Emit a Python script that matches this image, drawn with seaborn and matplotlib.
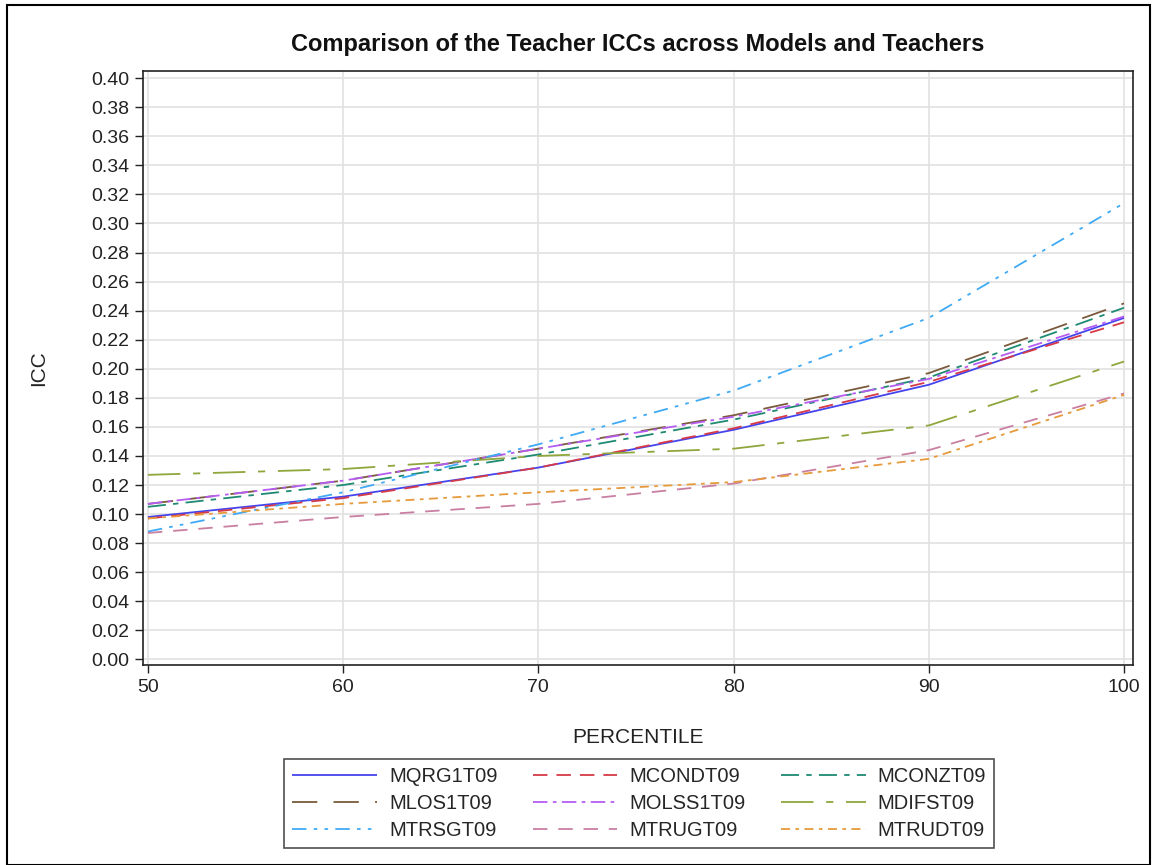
import matplotlib
matplotlib.use("Agg")
import matplotlib.pyplot as plt
import seaborn as sns
import pandas as pd
from matplotlib.patches import Rectangle

percentile = [50, 60, 70, 80, 90, 100]
series_names = ["MQRG1T09", "MCONDT09", "MCONZT09", "MLOS1T09", "MOLSS1T09",
                "MDIFST09", "MTRSGT09", "MTRUGT09", "MTRUDT09"]
MQRG1T09 = [0.098, 0.112, 0.132, 0.158, 0.189, 0.235]
MCONDT09 = [0.097, 0.111, 0.132, 0.159, 0.191, 0.232]
MCONZT09 = [0.105, 0.120, 0.141, 0.165, 0.194, 0.242]
MLOS1T09 = [0.107, 0.123, 0.145, 0.168, 0.197, 0.245]
MOLSS1T09 = [0.107, 0.123, 0.145, 0.167, 0.193, 0.236]
MDIFST09 = [0.127, 0.131, 0.140, 0.145, 0.161, 0.205]
MTRSGT09 = [0.088, 0.115, 0.148, 0.185, 0.235, 0.314]
MTRUGT09 = [0.087, 0.098, 0.107, 0.121, 0.144, 0.183]
MTRUDT09 = [0.097, 0.107, 0.115, 0.122, 0.138, 0.182]
values = [MQRG1T09, MCONDT09, MCONZT09, MLOS1T09, MOLSS1T09,
          MDIFST09, MTRSGT09, MTRUGT09, MTRUDT09]

colors = ["#4444EE", "#D63A46", "#1E8A72", "#7A5A3C", "#B55CF2",
          "#8FA63C", "#3FAAF5", "#C97FA2", "#E69A3C"]
dash_styles = [(1, 0), (8, 5), (10, 4, 3, 4), (14, 9), (8, 3, 2, 3),
               (18, 7, 4, 7), (8, 4, 2, 4, 2, 4), (8, 6), (5, 3, 2, 3)]

rows = []
for name, vals in zip(series_names, values):
    for p, v in zip(percentile, vals):
        rows.append({"PERCENTILE": p, "ICC": v, "series": name})
df = pd.DataFrame(rows)

sns.set_style("white")
plt.rcParams["font.family"] = ["Liberation Sans", "DejaVu Sans"]

fig = plt.figure(figsize=(11.52, 8.65), dpi=100)
ax = fig.add_axes([0.124, 0.231, 0.8595, 0.687])

palette = dict(zip(series_names, colors))
dashes = dict(zip(series_names, dash_styles))
sns.lineplot(data=df, x="PERCENTILE", y="ICC", hue="series", style="series",
             palette=palette, dashes=dashes, hue_order=series_names,
             style_order=series_names, ax=ax, linewidth=1.3, legend=True)

ax.set_xlim(49.74, 100.46)
ax.set_ylim(-0.004, 0.405)
ax.set_xticks([50, 60, 70, 80, 90, 100])
yt = [i * 0.02 for i in range(21)]
ax.set_yticks(yt)
ax.set_yticklabels([f"{v:.2f}" for v in yt])
ax.grid(True, color="#E2E2E2", linewidth=1.2)
ax.set_axisbelow(True)
for s in ax.spines.values():
    s.set_color("#222222")
    s.set_linewidth(1.2)
ax.tick_params(axis="both", direction="out", length=6, width=1, color="#222222",
               labelsize=14, labelcolor="#222222", left=True, bottom=True, pad=4)
ax.set_xlabel("PERCENTILE", fontsize=15, color="#222222", labelpad=23)
ax.set_ylabel("ICC", fontsize=15, color="#222222", labelpad=31)
ax.set_title("Comparison of the Teacher ICCs across Models and Teachers",
             fontsize=17, fontweight="bold", color="#111111", pad=14)

handles, labels = ax.get_legend_handles_labels()
ax.legend_.remove()
order = [0, 3, 6, 1, 4, 7, 2, 5, 8]
handles = [handles[i] for i in order]
labels = [labels[i] for i in order]
leg = fig.legend(handles, labels, loc="center", bbox_to_anchor=(0.555, 0.071),
                 ncol=3, frameon=True, fancybox=False, edgecolor="#222222",
                 fontsize=14.5, handlelength=4.2, columnspacing=1.75,
                 handletextpad=0.6, borderpad=0.4, labelspacing=0.38)
leg.get_frame().set_linewidth(1.2)

fig.patches.append(Rectangle((0.006, 0.0), 0.992, 0.994, transform=fig.transFigure,
                             fill=False, edgecolor="black", linewidth=1.5))

fig.savefig("out.png", dpi=100)
